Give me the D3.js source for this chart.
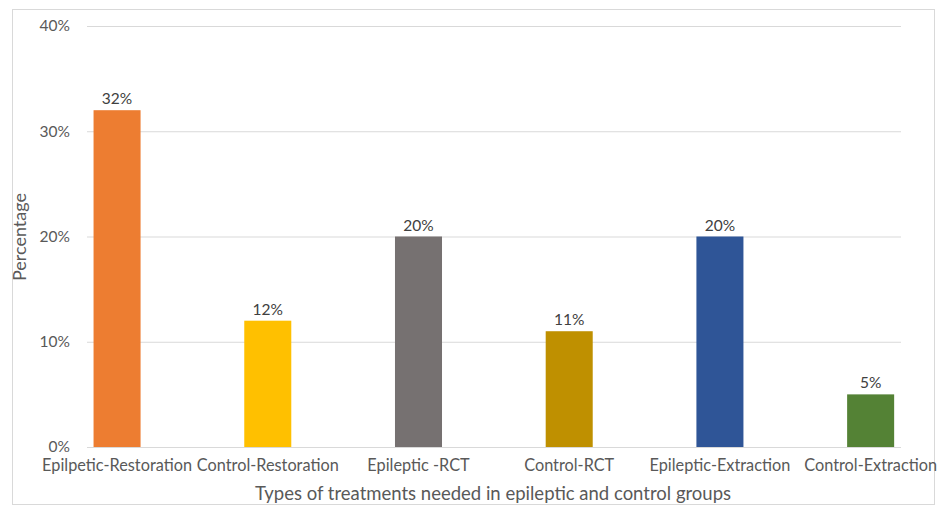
<!DOCTYPE html>
<html>
<head>
<meta charset="utf-8">
<script src="https://cdn.jsdelivr.net/npm/d3@7"></script>
<style>
  body { margin: 0; background: #fff; }
  text { font-family: Lato, "Open Sans", sans-serif; fill: #595959; }
</style>
</head>
<body>
<script>
// data
let categories = ["Epilpetic-Restoration", "Control-Restoration", "Epileptic -RCT",
                  "Control-RCT", "Epileptic-Extraction", "Control-Extraction"];
let values = [32, 12, 20, 11, 20, 5];
let colors = ["#ED7D31", "#FFC000", "#767171", "#BF9000", "#2F5597", "#548235"];
let yTicks = [0, 10, 20, 30, 40];

let w = 943;
let h = 506;

const svg = d3.select("body")
  .append("svg")
  .attr("width", w)
  .attr("height", h);

// chart frame
svg.append("rect")
  .attr("x", 12.5).attr("y", 9.5)
  .attr("width", 922).attr("height", 495)
  .attr("fill", "none")
  .attr("stroke", "#d9d9d9");

let y = d3.scaleLinear().domain([0, 40]).range([447, 26]);
let x = d3.scaleBand().domain(categories).range([41.7, 946]).paddingInner(0.688).paddingOuter(0.344);

// gridlines
svg.append("g")
  .call(d3.axisLeft(y).tickValues(yTicks).tickSize(-(901 - 87)).tickFormat(""))
  .attr("transform", "translate(87,0)")
  .call(g => g.select(".domain").remove())
  .call(g => g.selectAll("line").attr("stroke", "#d9d9d9"));

// y tick labels
svg.append("g")
  .attr("transform", "translate(70,0)")
  .call(d3.axisLeft(y).tickValues(yTicks).tickSize(0).tickPadding(0).tickFormat(d => d + "%"))
  .call(g => g.select(".domain").remove())
  .call(g => g.selectAll("text").attr("font-size", 15.5).attr("fill", "#595959")
    .style("font-family", "Lato, sans-serif"));

// bars
svg.selectAll("rect.bar")
  .data(values)
  .enter()
  .append("rect")
  .attr("class", "bar")
  .attr("x", (d, i) => x(categories[i]))
  .attr("width", x.bandwidth())
  .attr("y", d => y(d))
  .attr("height", d => y(0) - y(d))
  .attr("fill", (d, i) => colors[i]);

// x axis line
svg.append("line")
  .attr("x1", 87).attr("x2", 901)
  .attr("y1", y(0) + 0.5).attr("y2", y(0) + 0.5)
  .attr("stroke", "#d9d9d9");

// value labels
svg.selectAll("text.val")
  .data(values)
  .enter()
  .append("text")
  .attr("class", "val")
  .attr("x", (d, i) => x(categories[i]) + x.bandwidth() / 2)
  .attr("y", d => y(d) - 6)
  .attr("text-anchor", "middle")
  .attr("font-size", 15.5)
  .style("fill", "#404040")
  .text(d => d + "%");

// category labels
svg.append("g")
  .attr("transform", "translate(0," + y(0) + ")")
  .call(d3.axisBottom(x).tickSize(0).tickPadding(12))
  .call(g => g.select(".domain").remove())
  .call(g => g.selectAll("text").attr("font-size", 16.3).attr("fill", "#595959")
    .style("font-family", "Lato, sans-serif"));

// axis titles
svg.append("text")
  .attr("x", 493).attr("y", 500)
  .attr("text-anchor", "middle")
  .attr("font-size", 18.5)
  .text("Types of treatments needed in epileptic and control groups");

svg.append("text")
  .attr("transform", "translate(26,237) rotate(-90)")
  .attr("text-anchor", "middle")
  .attr("font-size", 18)
  .text("Percentage");
</script>
</body>
</html>
